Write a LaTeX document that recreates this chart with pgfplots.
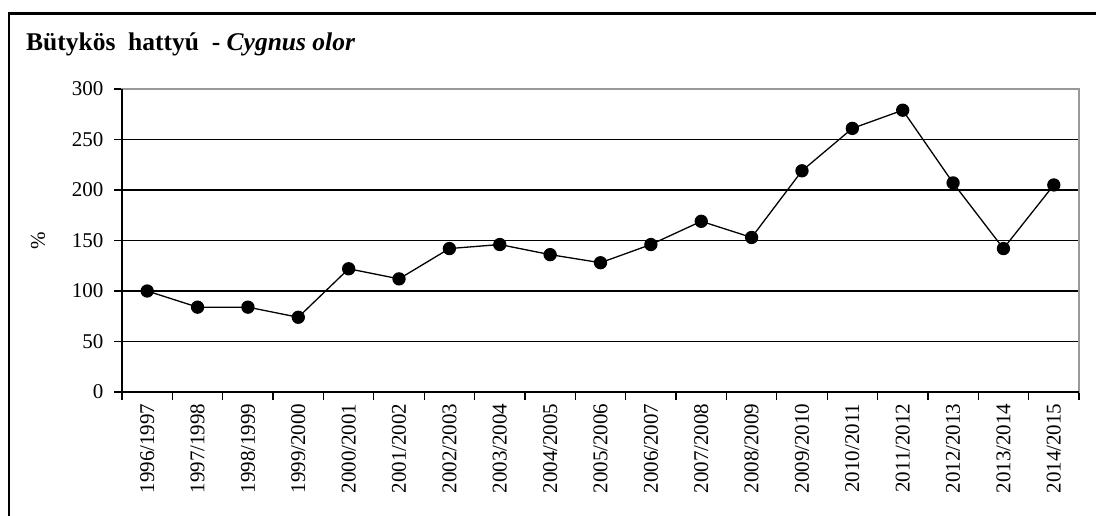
\documentclass[border=0pt]{standalone}
\usepackage{pgfplots}
\pgfplotsset{compat=1.18}
\usepackage{fontspec}
\setmainfont{Liberation Serif}
\begin{document}
\begin{tikzpicture}[x=1pt,y=1pt]
\path[use as bounding box] (0,0) rectangle (1096,516);
\draw[line width=2.2pt,line cap=rect] (9,0) -- (9,502.5) -- (1096,502.5);
\node[anchor=base west,inner sep=0pt,font=\fontsize{25.5}{30}\selectfont\bfseries] at (26,465) {Bütykös\ \ hattyú\ \ - \textit{Cygnus olor}};
\begin{axis}[
  at={(122pt,124pt)}, anchor=south west, scale only axis,
  width=957pt, height=303pt,
  xmin=-0.5, xmax=18.5, ymin=0, ymax=300,
  ytick={0,50,...,300},
  xtick={-0.5,0.5,...,18.5},
  x tick label as interval,
  xticklabels={1996/1997,1997/1998,1998/1999,1999/2000,2000/2001,2001/2002,2002/2003,2003/2004,2004/2005,2005/2006,2006/2007,2007/2008,2008/2009,2009/2010,2010/2011,2011/2012,2012/2013,2013/2014,2014/2015},
  x tick label style={rotate=90, anchor=east, font=\fontsize{21}{24}\selectfont},
  y tick label style={font=\fontsize{21}{25}\selectfont, xshift=-7pt},
  /pgf/number format/assume math mode=true,
  tick align=outside, xtick pos=bottom, ytick pos=left,
  major tick length=8pt,
  tick style={black, line width=1.3pt},
  ymajorgrids, grid style={black, line width=1.7pt},
  axis line style={draw=gray!80, line width=1.5pt},
  ylabel={\%}, ylabel style={font=\fontsize{21}{25}\selectfont},
  ylabel shift=20pt,
  clip=false,
]
\addplot[black, line width=1.3pt, mark=*, mark size=6pt, mark options={fill=black}] coordinates {
(0,100) (1,84) (2,84) (3,74) (4,122) (5,112) (6,142) (7,146) (8,136) (9,128)
(10,146) (11,169) (12,153) (13,219) (14,261) (15,279) (16,207) (17,142) (18,205)
};
\draw[black, line width=1.7pt] (rel axis cs:0,1) -- (rel axis cs:0,0) -- (rel axis cs:1,0);
\end{axis}
\end{tikzpicture}
\end{document}
